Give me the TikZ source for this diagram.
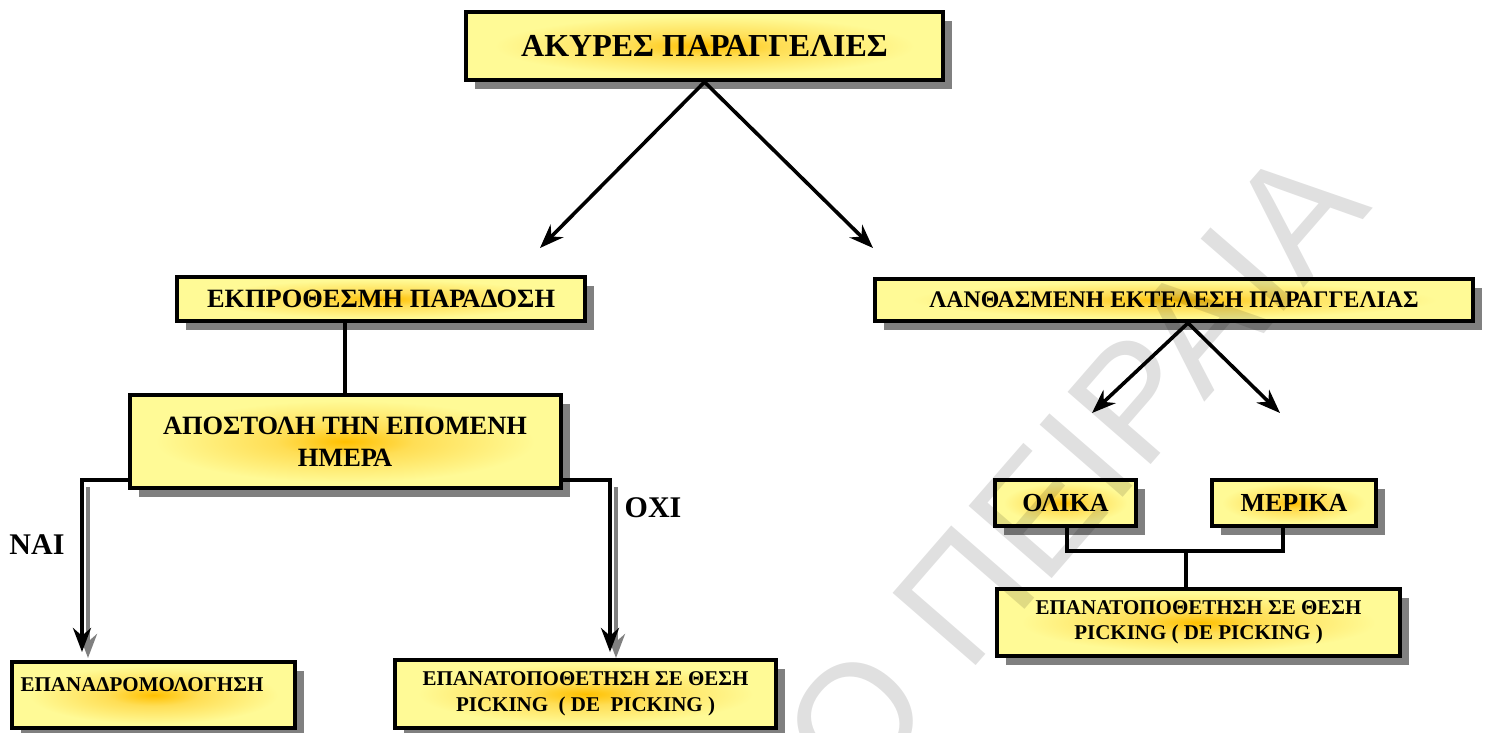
\documentclass[tikz,border=0pt]{standalone}
\usepackage{fontspec}
\setmainfont{Liberation Serif}
\newfontfamily\wmfont{Liberation Sans}
\usetikzlibrary{arrows.meta,shadows}
\definecolor{ycenter}{RGB}{255,192,0}
\definecolor{ymid}{RGB}{255,222,85}
\definecolor{yedge}{RGB}{255,250,150}
\definecolor{shadowgray}{RGB}{128,128,128}
\pgfdeclareradialshading{boxshade}{\pgfpoint{0bp}{0bp}}{color(0bp)=(ycenter); color(8bp)=(ymid); color(22bp)=(yedge); color(50bp)=(yedge)}
\tikzset{
  box/.style={draw=black, line width=2pt, shading=boxshade,
    drop shadow={shadow xshift=4.5pt, shadow yshift=-4.5pt, fill=shadowgray, opacity=1},
    inner sep=0pt, align=center},
  conn/.style={line width=2pt},
  arr/.style={line width=1.8pt, -{Stealth[length=12pt,width=9pt]}},
  varr/.style={line width=2pt, -{Stealth[length=12pt,width=9pt]}},
  sharr/.style={line width=2pt, draw=shadowgray, fill=shadowgray, -{Stealth[length=12pt,width=9pt]}},
  lbl/.style={font=\bfseries\fontsize{15}{18}\selectfont, inner sep=0pt},
  btxt/.style={font=\bfseries\fontsize{10.5}{12.5}\selectfont, inner sep=0pt},
  wm/.style={font=\wmfont\fontsize{80}{80}\selectfont, text=black, text opacity=0.12, inner sep=0pt}
}
\begin{document}
\begin{tikzpicture}[x=0.5pt,y=0.5pt]
\useasboundingbox (0,0) rectangle (1489,-733);

% boxes
\node[box, minimum width=238.5pt, minimum height=34pt, font=\bfseries\fontsize{16}{19}\selectfont] (top) at (704.5,-46) {ΑΚΥΡΕΣ ΠΑΡΑΓΓΕΛΙΕΣ};
\node[box, minimum width=204pt, minimum height=22pt, font=\bfseries\fontsize{13.2}{16}\selectfont] (ekp) at (381,-299) {ΕΚΠΡΟΘΕΣΜΗ ΠΑΡΑΔΟΣΗ};
\node[box, minimum width=215.5pt, minimum height=46.5pt, font=\bfseries\fontsize{13.2}{16}\selectfont] (apo) at (345,-441.5) {ΑΠΟΣΤΟΛΗ ΤΗΝ ΕΠΟΜΕΝΗ\\ΗΜΕΡΑ};
\node[box, minimum width=299pt, minimum height=21pt, font=\bfseries\fontsize{11.9}{14}\selectfont] (lanth) at (1174,-300) {ΛΑΝΘΑΣΜΕΝΗ ΕΚΤΕΛΕΣΗ ΠΑΡΑΓΓΕΛΙΑΣ};
\node[box, minimum width=70.5pt, minimum height=23pt, font=\bfseries\fontsize{13}{16}\selectfont] (olika) at (1065.5,-503) {ΟΛΙΚΑ};
\node[box, minimum width=82pt, minimum height=23pt, font=\bfseries\fontsize{13}{16}\selectfont] (merika) at (1294,-503) {ΜΕΡΙΚΑ};
\node[box, minimum width=201.5pt, minimum height=33.5pt, font=\bfseries\fontsize{10.5}{12.5}\selectfont] (rbox) at (1198.5,-622.5) {ΕΠΑΝΑΤΟΠΟΘΕΤΗΣΗ ΣΕ ΘΕΣΗ\\PICKING ( DE PICKING )};
\node[box, minimum width=141.5pt, minimum height=33pt] (epbox) at (153.5,-695) {};
\node[btxt] (eptext) at (142,-685) {ΕΠΑΝΑΔΡΟΜΟΛΟΓΗΣΗ};
\node[box, minimum width=190.5pt, minimum height=34pt, font=\bfseries\fontsize{10.5}{13}\selectfont] (mid) at (585.5,-694) {ΕΠΑΝΑΤΟΠΟΘΕΤΗΣΗ ΣΕ ΘΕΣΗ\\PICKING\ \ ( DE\ \ PICKING )};

% labels
\node[lbl] (nai) at (37,-545) {ΝΑΙ};
\node[lbl] (oxi) at (653,-508) {ΟΧΙ};

% free ends
\coordinate (tl) at (540,-248);
\coordinate (tr) at (873,-248);
\coordinate (lt) at (1092,-413);
\coordinate (rt) at (1280,-413);
\coordinate (naiT) at (82,-652);
\coordinate (oxiT) at (610,-652);
\coordinate (naiS) at (88,-487);
\coordinate (naiST) at (88,-658);
\coordinate (oxiS) at (616,-487);
\coordinate (oxiST) at (616,-658);
\coordinate (jn) at (1186,-551);

% connectors
\draw[arr] (top.south) -- (tl);
\draw[arr] (top.south) -- (tr);
\draw[conn] (apo.north |- ekp.south) -- (apo.north);
\draw[arr] ([xshift=7pt]lanth.south) -- (lt);
\draw[arr] ([xshift=7pt]lanth.south) -- (rt);

\draw[sharr] (naiS) -- (naiST);
\draw[sharr] (oxiS) -- (oxiST);
\draw[varr] ([yshift=-19pt]apo.west) -| (naiT);
\draw[varr] ([yshift=-19pt]apo.east) -| (oxiT);

\draw[conn] ([xshift=0.75pt]olika.south) |- (jn) -| ([xshift=-5.5pt]merika.south);
\draw[conn] (jn) -- (jn |- rbox.north);

% watermark
\begin{scope}
\clip (0,0) rectangle (1489,-733);
\node[wm, rotate=49, anchor=base east] (wmark) at (1374,-208) {Ο ΠΕΙΡΑΙΑ};
\end{scope}
\end{tikzpicture}
\end{document}
